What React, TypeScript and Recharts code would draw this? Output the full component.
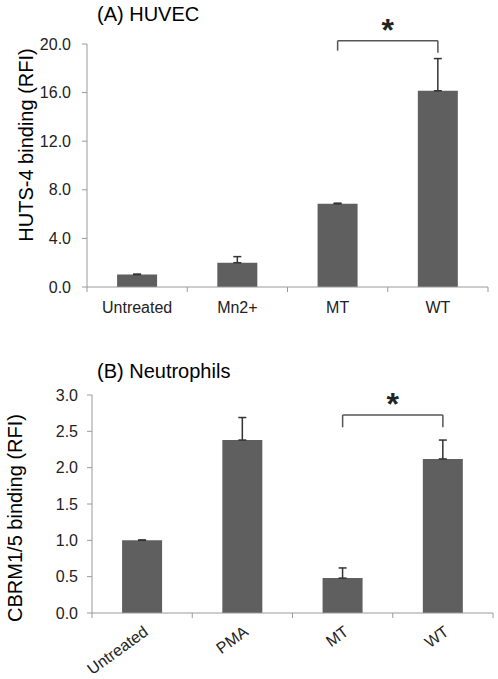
import { BarChart, Bar, XAxis, YAxis, ErrorBar, ReferenceLine } from "recharts";

// (A) HUVEC
const huvecCats = ["Untreated", "Mn2+", "MT", "WT"];
const huvecValues = [1.02, 2.0, 6.85, 16.15];
const huvecErrors = [0.04, 0.5, 0.05, 2.65];
const huvecTicks = [0, 4, 8, 12, 16, 20];
const huvecBracket = { top: 20.27, left: 19.45, right: 19.28 };

// (B) Neutrophils
const neutroCats = ["Untreated", "PMA", "MT", "WT"];
const neutroValues = [1.0, 2.38, 0.48, 2.12];
const neutroErrors = [0.005, 0.31, 0.14, 0.26];
const neutroTicks = [0, 0.5, 1, 1.5, 2, 2.5, 3];
const neutroBracket = { top: 2.724, left: 2.555, right: 2.555 };

const FONT = "'Liberation Sans', Arial, sans-serif";
const AXIS = "#9a9a9a";
const BAR = "#5f5f5f";
const TEXT = "#222";
const W = 498;

const build = (cats: string[], vals: number[], errs: number[]) =>
  cats.map((name, i) => ({ name, value: vals[i], err: [0, errs[i]] }));

const huvecData = build(huvecCats, huvecValues, huvecErrors);
const neutroData = build(neutroCats, neutroValues, neutroErrors);

// category label plus tick marks on the band edges (Excel style)
function BandTick(props: any) {
  const { x, y, payload, index, band, count, rotate } = props;
  const axisY = y - 5;
  const half = band / 2;
  return (
    <g>
      <line x1={x - half} x2={x - half} y1={axisY} y2={axisY + 5} stroke={AXIS} />
      {index === count - 1 && (
        <line x1={x + half} x2={x + half} y1={axisY} y2={axisY + 5} stroke={AXIS} />
      )}
      {rotate ? (
        <text
          x={x + 7}
          y={axisY + 21}
          textAnchor="end"
          fontSize={16}
          fill={TEXT}
          transform={`rotate(-36, ${x + 7}, ${axisY + 21})`}
        >
          {payload.value}
        </text>
      ) : (
        <text x={x} y={axisY + 26} textAnchor="middle" fontSize={16} fill={TEXT}>
          {payload.value}
        </text>
      )}
    </g>
  );
}

function Panel(props: {
  data: any[];
  ticks: number[];
  domain: [number, number];
  bracket: { top: number; left: number; right: number };
  height: number;
  margin: any;
  yWidth: number;
  xHeight: number;
  rotate: boolean;
}) {
  const { data, ticks, domain, bracket, height, margin, yWidth, xHeight, rotate } = props;
  const band = (W - margin.right - yWidth) / data.length;
  return (
    <BarChart width={W} height={height} data={data} margin={margin} barCategoryGap="30%">
      <XAxis
        dataKey="name"
        interval={0}
        height={xHeight}
        stroke={AXIS}
        tickLine={false}
        tickSize={5}
        tickMargin={0}
        tick={(p: any) => (
          <BandTick {...p} band={band} count={data.length} rotate={rotate} />
        )}
      />
      <YAxis
        width={yWidth}
        domain={domain}
        ticks={ticks}
        interval={0}
        stroke={AXIS}
        tickSize={5}
        tickMargin={rotate ? 9 : 11}
        tick={{ fill: TEXT, fontSize: 16 }}
        tickFormatter={(v: number) => v.toFixed(1)}
        allowDataOverflow
      />
      <Bar dataKey="value" fill={BAR} isAnimationActive={false}>
        <ErrorBar dataKey="err" direction="y" width={4} stroke="#333" strokeWidth={1.5} />
      </Bar>
      <ReferenceLine
        segment={[
          { x: "MT", y: bracket.top },
          { x: "WT", y: bracket.top },
        ]}
        stroke="#555"
        strokeWidth={1.5}
        ifOverflow="visible"
        label={{ value: "*", position: "top", offset: 0, fontSize: 32, fontWeight: "bold", fill: TEXT }}
      />
      <ReferenceLine
        segment={[
          { x: "MT", y: bracket.top },
          { x: "MT", y: bracket.left },
        ]}
        stroke="#555"
        strokeWidth={1.5}
        ifOverflow="visible"
      />
      <ReferenceLine
        segment={[
          { x: "WT", y: bracket.top },
          { x: "WT", y: bracket.right },
        ]}
        stroke="#555"
        strokeWidth={1.5}
        ifOverflow="visible"
      />
    </BarChart>
  );
}

export default function App() {
  return (
    <div
      style={{
        position: "absolute",
        left: 0,
        top: 0,
        width: W,
        height: 679,
        background: "#fff",
        fontFamily: FONT,
      }}
    >
      <div style={{ position: "absolute", left: 0, top: 0 }}>
        <Panel
          data={huvecData}
          ticks={huvecTicks}
          domain={[0, 20]}
          bracket={huvecBracket}
          height={330}
          margin={{ top: 44, right: 10, bottom: 13, left: 0 }}
          yWidth={87}
          xHeight={30}
          rotate={false}
        />
      </div>
      <div style={{ position: "absolute", left: 0, top: 330 }}>
        <Panel
          data={neutroData}
          ticks={neutroTicks}
          domain={[0, 3]}
          bracket={neutroBracket}
          height={349}
          margin={{ top: 65, right: 5, bottom: 16, left: 0 }}
          yWidth={92}
          xHeight={50}
          rotate={true}
        />
      </div>
      <svg
        width={W}
        height={679}
        style={{ position: "absolute", left: 0, top: 0, pointerEvents: "none" }}
      >
        <text x={97} y={21} fontSize={20} fill="#000">(A) HUVEC</text>
        <text x={97} y={378} fontSize={20} fill="#000">(B) Neutrophils</text>
        <text
          x={33}
          y={145}
          fontSize={20}
          fill="#000"
          textAnchor="middle"
          transform="rotate(-90, 33, 145)"
        >
          HUTS-4 binding (RFI)
        </text>
        <text
          x={22}
          y={518}
          fontSize={20}
          fill="#000"
          textAnchor="middle"
          transform="rotate(-90, 22, 518)"
        >
          CBRM1/5 binding (RFI)
        </text>
      </svg>
    </div>
  );
}
